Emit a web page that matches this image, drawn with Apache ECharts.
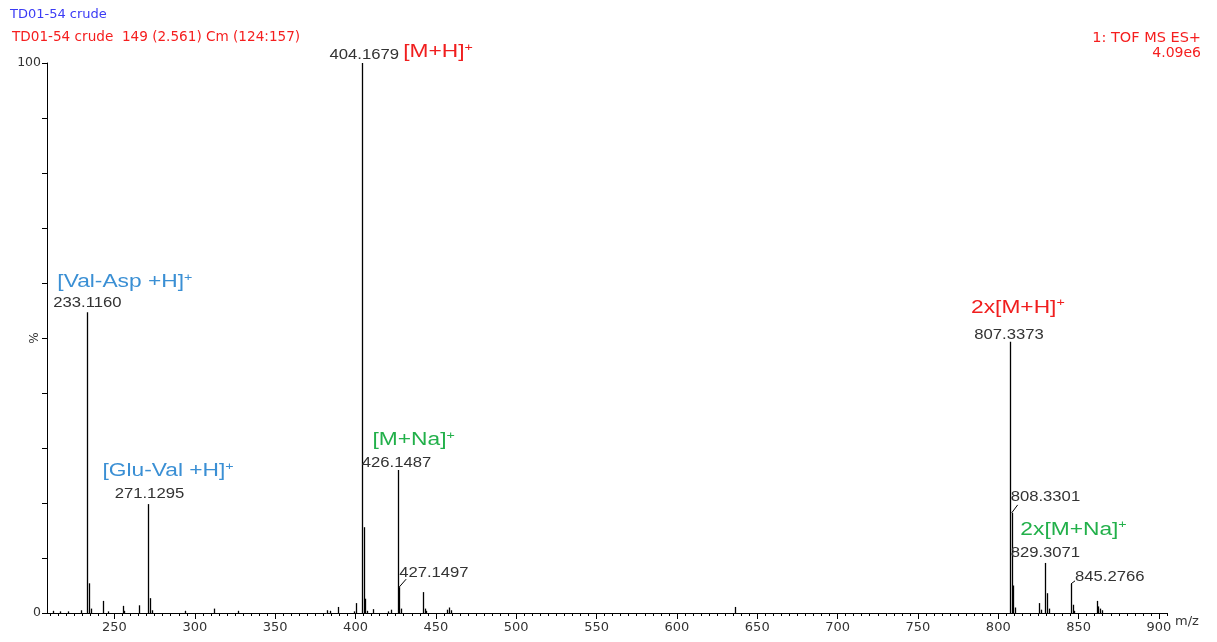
<!DOCTYPE html>
<html>
<head>
<meta charset="utf-8">
<script src="https://cdn.jsdelivr.net/npm/echarts@6/dist/echarts.min.js"></script>
<style>
  html, body { margin: 0; padding: 0; background: #fff; }
  #chart { width: 1217px; height: 642px; }
</style>
</head>
<body>
<div id="chart"></div>
<script>
// spectrum sticks (m/z, relative intensity %)
const mz = [212, 216, 221, 229, 233.1160, 234.12, 235.1, 243.1, 246, 255.1, 256.1, 265.1,
  271.1295, 272.13, 273.1, 294, 312.1, 327, 382, 384, 389.2, 399, 400.2,
  404.1679, 405.17, 406.17, 407.2, 411.1, 420, 422.1, 426.1487, 427.1497, 428.15,
  442.1, 443.1, 444, 457.2, 458.2, 459.2, 636.3,
  807.3373, 808.3301, 809.33, 810.3, 825.3, 826.3, 829.3071, 830.31, 831.3,
  845.2766, 846.28, 847.3, 861.3, 862.3, 863.3, 864.3];
const intensity = [0.4, 0.3, 0.3, 0.5, 54.7, 5.4, 0.8, 2.2, 0.3, 1.3, 0.4, 1.4,
  19.8, 2.7, 0.5, 0.4, 0.8, 0.4, 0.5, 0.4, 1.1, 0.3, 1.8,
  100, 15.6, 2.6, 0.4, 0.7, 0.3, 0.6, 26, 4.7, 0.8,
  3.8, 0.8, 0.4, 0.6, 1.0, 0.5, 1.1,
  49.3, 18.2, 5.0, 1.0, 1.8, 0.6, 9.1, 3.6, 0.8,
  5.3, 1.5, 0.4, 2.2, 1.2, 0.8, 0.5];

// labelled peaks
const labelMz = [233.1160, 271.1295, 404.1679, 426.1487, 427.1497, 807.3373, 808.3301, 829.3071, 845.2766];
// ion assignments
const ionMz = [233.1160, 271.1295, 404.1679, 426.1487, 807.3373, 829.3071];
const ionName = ['[Val-Asp +H]', '[Glu-Val +H]', '[M+H]', '[M+Na]', '2x[M+H]', '2x[M+Na]'];

const xMajor = [250, 300, 350, 400, 450, 500, 550, 600, 650, 700, 750, 800, 850, 900];
const xMinor = [];
for (let v = 210; v <= 905; v += 5) xMinor.push(v);

// label placement (pixels relative to the peak top)
const numLayout = [
  { dx: 0, dy: -9, align: 'center' },
  { dx: 1, dy: -10, align: 'center' },
  { dx: 2, dy: -8, align: 'center' },
  { dx: -1, dy: -7, align: 'center' },
  { dx: 0, dy: -14, align: 'left', leader: [7, -8] },
  { dx: -1, dy: -7, align: 'center' },
  { dx: -1, dy: -16, align: 'left', leader: [6, -8] },
  { dx: 0, dy: -10, align: 'center' },
  { dx: 4, dy: -7, align: 'left', leader: [4, -3] }
];
const ionLayout = [
  { dx: -30, dy: -30, color: '#3a8fd4' },
  { dx: -46, dy: -33, color: '#3a8fd4' },
  { dx: 41, dy: -11, color: '#f01e1e' },
  { dx: -25, dy: -30, color: '#22b04a' },
  { dx: -39, dy: -34, color: '#f01e1e' },
  { dx: -25, dy: -33, color: '#22b04a' }
];

function intensityOf(m) {
  return intensity[mz.indexOf(m)];
}

const FONT = '"Liberation Sans", Arial, sans-serif';
const WIDE = '"DejaVu Sans", sans-serif';

const chart = echarts.init(document.getElementById('chart'));
chart.setOption({
  animation: false,
  backgroundColor: '#fff',
  title: [
    { text: 'TD01-54 crude', left: 10, top: 8, padding: 0, textStyle: { color: '#3b3bf5', fontSize: 13, fontWeight: 'normal', fontFamily: WIDE } },
    { text: 'TD01-54 crude  149 (2.561) Cm (124:157)', left: 12, top: 30, padding: 0, textStyle: { color: '#f51e1e', fontSize: 13.6, fontWeight: 'normal', fontFamily: WIDE } },
    { text: '1: TOF MS ES+', right: 16, top: 31, padding: 0, textStyle: { color: '#f51e1e', fontSize: 14.5, fontWeight: 'normal', fontFamily: WIDE } },
    { text: '4.09e6', right: 16, top: 46, padding: 0, textStyle: { color: '#f51e1e', fontSize: 14, fontWeight: 'normal', fontFamily: WIDE } }
  ],
  grid: { left: 47, right: 50, top: 63, bottom: 29, containLabel: false, outerBoundsMode: 'none' },
  xAxis: [
    {
      type: 'value', min: 208, max: 905, position: 'bottom',
      axisLine: { lineStyle: { color: '#000', width: 1 } },
      axisTick: { show: true, customValues: xMinor, length: 3, lineStyle: { color: '#000' } },
      axisLabel: { show: false },
      splitLine: { show: false },
      name: 'm/z', nameLocation: 'end', nameGap: 8,
      nameTextStyle: { color: '#333', fontSize: 13, fontFamily: WIDE, verticalAlign: 'top', padding: [2, 0, 0, 0] }
    },
    {
      type: 'value', min: 208, max: 905, position: 'bottom',
      axisLine: { show: false },
      axisTick: { show: true, customValues: xMajor, length: 6, lineStyle: { color: '#000' } },
      axisLabel: { customValues: xMajor, color: '#333', fontSize: 13, fontFamily: WIDE, margin: 8 },
      splitLine: { show: false }
    }
  ],
  yAxis: {
    type: 'value', min: 0, max: 100, interval: 10,
    axisLine: { show: true, lineStyle: { color: '#000' } },
    axisTick: { show: true, length: 5, lineStyle: { color: '#000' } },
    axisLabel: {
      color: '#333', fontSize: 12.5, fontFamily: WIDE, margin: 6,
      formatter: function (v) { return (v === 0 || v === 100) ? String(v) : ''; }
    },
    splitLine: { show: false },
    name: '%', nameLocation: 'middle', nameGap: 6, nameRotate: 90, nameMoveOverlap: false,
    nameTextStyle: { color: '#333', fontSize: 12, fontFamily: WIDE }
  },
  series: [
    {
      type: 'custom',
      name: 'spectrum',
      xAxisIndex: 0,
      data: mz.map((m, i) => [m, intensity[i]]),
      encode: { x: 0, y: 1 },
      renderItem: function (params, api) {
        const top = api.coord([api.value(0), api.value(1)]);
        const base = api.coord([api.value(0), 0]);
        const x = Math.round(top[0]) + 0.5;
        return {
          type: 'line',
          shape: { x1: x, y1: base[1], x2: x, y2: top[1] },
          style: { stroke: '#000', lineWidth: 1.3 }
        };
      }
    },
    {
      type: 'custom',
      name: 'mass labels',
      xAxisIndex: 0,
      data: labelMz.map(m => [m, intensityOf(m)]),
      encode: { x: 0, y: 1 },
      renderItem: function (params, api) {
        const i = params.dataIndex;
        const p = api.coord([api.value(0), api.value(1)]);
        const lay = numLayout[i];
        const children = [];
        if (lay.leader) {
          children.push({
            type: 'line',
            shape: { x1: p[0], y1: p[1], x2: p[0] + lay.leader[0], y2: p[1] + lay.leader[1] },
            style: { stroke: '#000', lineWidth: 1 }
          });
        }
        children.push({
          type: 'text',
          x: p[0] + lay.dx, y: p[1] + lay.dy, scaleX: 1.19,
          style: {
            text: labelMz[i].toFixed(4), fill: '#333', fontSize: 14, fontFamily: FONT,
            align: lay.align, verticalAlign: 'middle'
          }
        });
        return { type: 'group', children: children };
      }
    },
    {
      type: 'custom',
      name: 'ion labels',
      xAxisIndex: 0,
      data: ionMz.map(m => [m, intensityOf(m)]),
      encode: { x: 0, y: 1 },
      renderItem: function (params, api) {
        const i = params.dataIndex;
        const p = api.coord([api.value(0), api.value(1)]);
        const lay = ionLayout[i];
        return {
          type: 'text',
          x: p[0] + lay.dx, y: p[1] + lay.dy, scaleX: 1.3,
          style: {
            text: '{b|' + ionName[i] + '}{s|+}',
            align: 'left', verticalAlign: 'middle',
            rich: {
              b: { fill: lay.color, fontSize: 17.5, fontFamily: FONT, lineHeight: 20 },
              s: { fill: lay.color, fontSize: 11, fontFamily: FONT, lineHeight: 11, verticalAlign: 'top' }
            }
          }
        };
      }
    }
  ]
});
</script>
</body>
</html>
